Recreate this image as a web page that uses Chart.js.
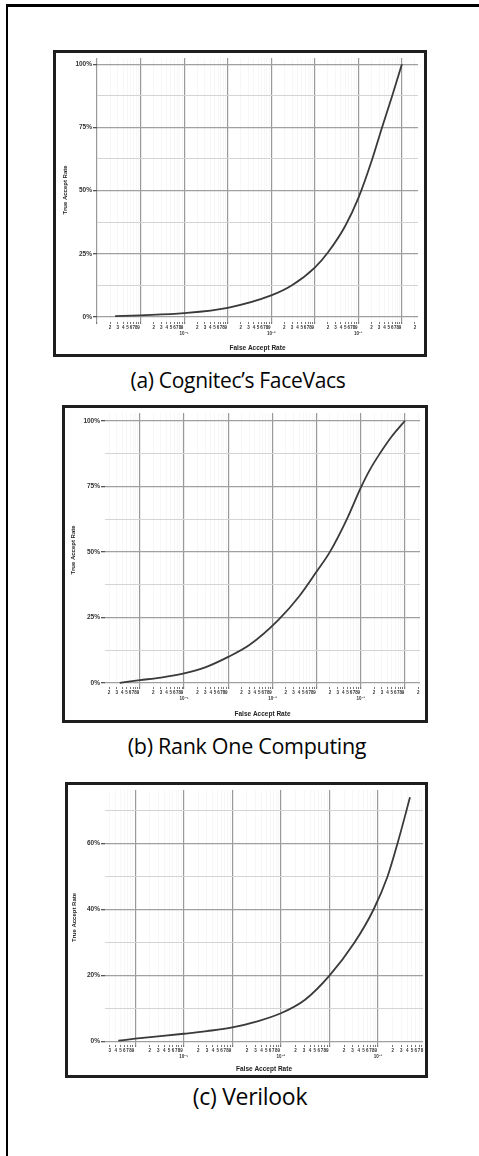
<!DOCTYPE html>
<html>
<head>
<meta charset="utf-8">
<script src="https://cdn.jsdelivr.net/npm/chart.js@4/dist/chart.umd.min.js"></script>
<style>
  html, body { margin: 0; padding: 0; background: #fff; }
  body { width: 479px; height: 1156px; position: relative; overflow: hidden; }
  .rule-top { position: absolute; left: 6px; top: 4px; width: 480px; height: 3px; background: #000; }
  .rule-left { position: absolute; left: 6px; top: 4px; width: 2px; height: 1160px; background: #000; }
  .panel { position: absolute; box-sizing: border-box; border: 3px solid #1e1e1e; background: #fff; }
  .panel canvas { display: block; }
  .caption { position: absolute; font-family: "Open Sans", "Noto Sans", sans-serif; font-size: 21px;
             color: #050505; white-space: nowrap; transform: translate(-50%, -50%); letter-spacing: -0.3px; }
</style>
</head>
<body>
<div class="rule-top"></div>
<div class="rule-left"></div>

<div class="panel" style="left:53px; top:50px; width:374px; height:307px;"><canvas id="chartA" width="368" height="301"></canvas></div>
<div class="caption" style="left:238px; top:380px;">(a) Cognitec’s FaceVacs</div>

<div class="panel" style="left:62px; top:405px; width:366px; height:318px;"><canvas id="chartB" width="360" height="312"></canvas></div>
<div class="caption" style="left:247px; top:745px; font-size:21.5px;">(b) Rank One Computing</div>

<div class="panel" style="left:65px; top:782px; width:363px; height:296px;"><canvas id="chartC" width="357" height="290"></canvas></div>
<div class="caption" style="left:250px; top:1096px; font-size:23px;">(c) Verilook</div>

<script>
// ROC curves: false accept rate (log axis) vs. true accept rate (%)
const farA = [2.6e-7, 1e-6, 1e-5, 1e-4, 1e-3, 3e-3, 1e-2, 2e-2, 5e-2, 1e-1, 2e-1, 3.5e-1, 6e-1, 1];
const tarA = [0.3, 0.65, 1.5, 3.6, 8.5, 12.5, 19.5, 25.5, 36, 47, 61.5, 75, 87.5, 100];

const farB = [3.5e-7, 1e-6, 3e-6, 1e-5, 3e-5, 1e-4, 3e-4, 1.35e-3, 4e-3, 1e-2, 2e-2, 5e-2, 1e-1, 1.6e-1, 2.7e-1, 5e-1, 1];
const tarB = [0.1, 1.1, 2.1, 3.7, 6, 10, 14.5, 24, 33, 42.5, 50, 63, 74.5, 81.3, 87.5, 94, 100];

const farC = [4.5e-7, 1e-6, 1e-5, 3e-5, 1e-4, 3e-4, 1e-3, 3.15e-3, 1e-2, 3.28e-2, 8.1e-2, 1.57e-1, 2.52e-1, 3.86e-1, 4.55e-1];
const tarC = [0.3, 0.9, 2.4, 3.2, 4.3, 6, 8.6, 12.7, 20, 30, 40, 50, 60, 70, 74];

// axis ticks
const minorMultipliers = [2, 3, 4, 5, 6, 7, 8, 9];
const decadesA = [-7, -6, -5, -4, -3, -2, -1, 0];
const decadesB = [-7, -6, -5, -4, -3, -2, -1, 0];
const decadesC = [-7, -6, -5, -4, -3, -2, -1, 0];
const labeledDecades = [-5, -3, -1];
const decadeLabels = ['10⁻⁵', '10⁻³', '10⁻¹'];

const yTicksAB = [0, 12.5, 25, 37.5, 50, 62.5, 75, 87.5, 100];
const yLabelsAB = [0, 25, 50, 75, 100];
const yTicksC = [0, 10, 20, 30, 40, 50, 60, 70];
const yLabelsC = [0, 20, 40, 60];

const yTitle = 'True Accept Rate';
const xTitle = 'False Accept Rate';

function isDecade(v) {
  const l = Math.log10(v);
  return Math.abs(l - Math.round(l)) < 1e-6;
}

function xTickValues(decades, min, max) {
  const vals = [];
  decades.forEach(d => {
    const base = Math.pow(10, d);
    vals.push(base);
    minorMultipliers.forEach(m => vals.push(m * base));
  });
  return vals.filter(v => v >= min * 0.999 && v <= max * 1.001);
}

function buildChart(id, far, tar, geo) {
  const points = far.map((f, i) => ({ x: f, y: tar[i] }));
  const xVals = xTickValues(geo.decades, geo.xMin, geo.xMax);
  const tickFont = { family: '"Liberation Sans", Arial, sans-serif', size: 6.5, weight: 'bold' };

  return new Chart(document.getElementById(id), {
    type: 'line',
    data: {
      datasets: [{
        data: points,
        borderColor: '#3a3a3a',
        borderWidth: 1.8,
        pointRadius: 0,
        cubicInterpolationMode: 'monotone',
        fill: false
      }]
    },
    options: {
      responsive: false,
      animation: false,
      devicePixelRatio: 1,
      layout: { padding: { left: geo.padLeft, right: geo.padRight, top: geo.padTop, bottom: geo.padBottom } },
      plugins: { legend: { display: false }, tooltip: { enabled: false } },
      scales: {
        x: {
          type: 'logarithmic',
          min: geo.xMin,
          max: geo.xMax,
          afterBuildTicks: s => { s.ticks = xVals.map(v => ({ value: v, major: isDecade(v) })); },
          afterFit: s => { s.height = geo.xAxisH; },
          border: { display: false },
          grid: {
            color: c => (c.tick && isDecade(c.tick.value)) ? '#999999' : 'rgba(0,0,0,0.03)',
            lineWidth: c => (c.tick && isDecade(c.tick.value)) ? 1.2 : 1,
            tickLength: 2,
            tickColor: '#777'
          },
          ticks: {
            autoSkip: false,
            maxRotation: 0,
            minRotation: 0,
            padding: 0,
            color: '#333',
            font: { family: '"Liberation Sans", Arial, sans-serif', size: 4.5, weight: 'bold', lineHeight: 1.5 },
            callback: (v) => {
              if (isDecade(v)) {
                const e = Math.round(Math.log10(v));
                const k = labeledDecades.indexOf(e);
                return k >= 0 ? ['', decadeLabels[k]] : '';
              }
              return String(Math.round(v / Math.pow(10, Math.floor(Math.log10(v) + 1e-9))));
            }
          },
          title: {
            display: true,
            text: xTitle,
            color: '#222',
            padding: 0,
            font: { family: '"Liberation Sans", Arial, sans-serif', size: 6.5, weight: 'bold' }
          }
        },
        y: {
          type: 'linear',
          min: geo.yMin,
          max: geo.yMax,
          afterBuildTicks: s => { s.ticks = geo.yTicks.map(v => ({ value: v })); },
          afterFit: s => { s.width = geo.yAxisW; },
          border: { display: false },
          grid: {
            color: c => (c.tick && geo.yLabels.includes(c.tick.value)) ? '#a0a0a0' : '#d4d4d4',
            lineWidth: c => (c.tick && geo.yLabels.includes(c.tick.value)) ? 1.3 : 1,
            tickLength: 4,
            tickColor: c => (c.tick && geo.yLabels.includes(c.tick.value)) ? '#555' : 'rgba(0,0,0,0)'
          },
          ticks: {
            autoSkip: false,
            padding: 1,
            color: '#333',
            font: tickFont,
            callback: v => geo.yLabels.includes(v) ? v + '%' : ''
          },
          title: {
            display: true,
            text: yTitle,
            color: '#222',
            padding: 0,
            font: { family: '"Liberation Sans", Arial, sans-serif', size: 6, weight: 'bold' }
          }
        }
      }
    }
  });
}

buildChart('chartA', farA, tarA, {
  decades: decadesA, xMin: 1e-7, xMax: Math.pow(10, 0.37),
  yMin: -2, yMax: 102.5, yTicks: yTicksAB, yLabels: yLabelsAB,
  padLeft: 6, padRight: 6, padTop: 2, padBottom: 2, yAxisW: 35, xAxisH: 30
});

buildChart('chartB', farB, tarB, {
  decades: decadesB, xMin: Math.pow(10, -6.79), xMax: Math.pow(10, 0.34),
  yMin: -1.5, yMax: 103, yTicks: yTicksAB, yLabels: yLabelsAB,
  padLeft: 5, padRight: 5, padTop: 2, padBottom: 2, yAxisW: 35, xAxisH: 31
});

buildChart('chartC', farC, tarC, {
  decades: decadesC, xMin: Math.pow(10, -6.62), xMax: Math.pow(10, -0.074),
  yMin: -1, yMax: 76.2, yTicks: yTicksC, yLabels: yLabelsC,
  padLeft: 3, padRight: 2, padTop: 3, padBottom: 2, yAxisW: 34, xAxisH: 28
});
</script>
</body>
</html>
